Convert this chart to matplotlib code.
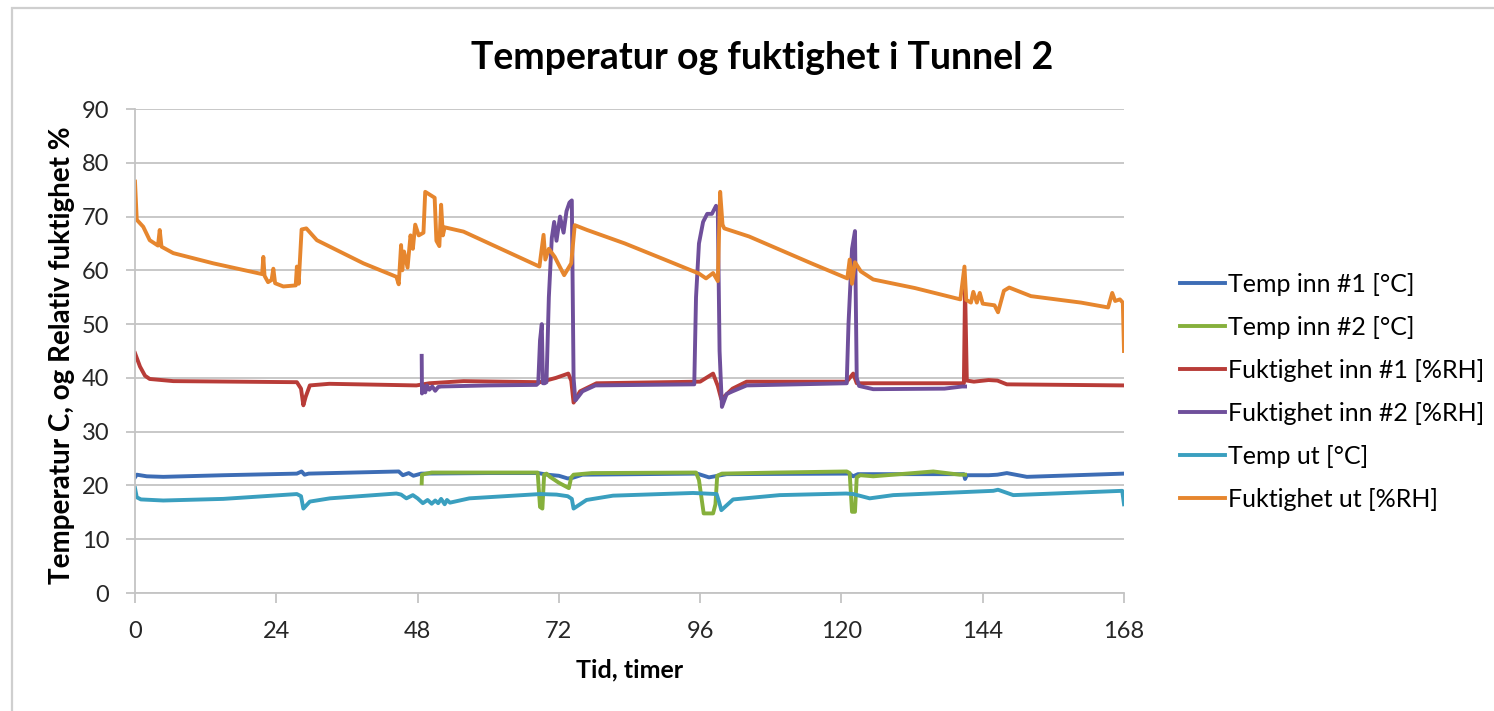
import matplotlib
matplotlib.use("Agg")
import matplotlib.pyplot as plt
from matplotlib.patches import Rectangle

plt.rcParams["font.family"] = ["Lato", "DejaVu Sans"]

# time axis in hours
blue_t = [0, 0.3, 2, 4.8, 15, 27.5, 28.3, 28.8, 29.5, 44.8, 45.5, 46.5, 47.3, 48.6, 60, 68.5, 70, 72,
          73.5, 74.3, 76, 95.5, 97.5, 99, 100.5, 121.3, 122, 122.8, 140.8, 141.0, 141.3, 145.0, 146.5,
          148.1, 151.5, 168]
blue_v = [21.5, 22.0, 21.7, 21.6, 21.9, 22.2, 22.6, 22.0, 22.2, 22.6, 21.9, 22.3, 21.8, 22.2, 22.3, 22.3,
          22.0, 21.8, 21.3, 21.4, 22.0, 22.2, 21.5, 21.8, 22.1, 22.2, 21.7, 22.1, 22.1, 21.2, 21.9, 21.9,
          22.0, 22.3, 21.6, 22.2]

green_t = [48.7, 48.75, 49.5, 50.4, 68.4, 68.8, 69.2, 69.5, 69.9, 70.5, 72.0, 73.7, 74.1, 74.5, 77.6,
           95.3, 95.8, 96.6, 98.2, 98.6, 98.9, 99.7, 109, 120.9, 121.4, 121.8, 122.3, 122.6, 123.2,
           125.4, 135.6, 140.1, 141.0]
green_v = [20.4, 22.0, 22.2, 22.4, 22.4, 16.0, 15.7, 22.0, 22.2, 21.6, 20.5, 19.5, 21.5, 22.0, 22.3,
           22.4, 21.0, 14.8, 14.8, 16.5, 21.8, 22.2, 22.4, 22.6, 22.3, 15.1, 15.1, 21.5, 21.9, 21.7,
           22.6, 22.0, 22.0]

red_t = [0, 0.85, 1.7, 2.5, 6.5, 27.5, 28.2, 28.6, 29.0, 29.7, 33, 47.8, 50, 55.8, 68.8, 71.5, 73.6,
         74.1, 74.5, 75.6, 78.4, 96.0, 98.2, 99.0, 99.6, 101.5, 103.9, 120.9, 122.0, 122.6, 140.8,
         141.0, 141.3, 142.5, 145.0, 146.5, 148.1, 168]
red_v = [44.6, 42.1, 40.4, 39.8, 39.4, 39.2, 38.0, 34.9, 36.5, 38.6, 38.9, 38.6, 39.0, 39.4, 39.2, 40.0,
         40.8, 39.5, 35.4, 37.5, 39.0, 39.3, 40.8, 38.5, 36.0, 38.0, 39.3, 39.3, 40.8, 39.0, 39.0, 57.0,
         39.5, 39.3, 39.6, 39.5, 38.8, 38.6]

purple_t = [48.7, 48.75, 49.0, 49.3, 49.6, 50.0, 50.5, 51.0, 51.5, 52.0, 60, 68.2, 68.5, 68.8, 69.1,
            69.3, 69.6, 69.9, 70.3, 70.8, 71.2, 71.6, 72.2, 72.8, 73.3, 73.8, 74.2, 74.5, 74.8, 75.3,
            76.0, 78.2, 95.0, 95.3, 95.8, 96.5, 97.2, 98.0, 98.7, 99.0, 99.3, 99.7, 100.5, 101.5, 103.9,
            120.9, 121.2, 121.8, 122.3, 122.6, 123.0, 125.4, 137.5, 140.5, 141.0]
purple_v = [44.1, 37.1, 38.5, 37.3, 38.6, 37.8, 38.4, 37.6, 38.3, 38.4, 38.6, 38.7, 39.0, 47.0, 50.0,
            39.0, 39.0, 39.2, 55.0, 66.0, 69.0, 65.5, 70.0, 67.0, 71.0, 72.6, 73.0, 40.0, 35.8, 36.5,
            37.5, 38.6, 38.8, 55.0, 65.0, 69.0, 70.5, 70.5, 72.0, 71.0, 45.0, 34.6, 37.0, 37.5, 38.6,
            39.0, 50.0, 64.0, 67.3, 40.0, 38.5, 37.9, 38.0, 38.4, 38.4]

teal_t = [0, 0.3, 1.0, 4.8, 15, 27.5, 28.2, 28.6, 29.7, 33.1, 44.4, 45.2, 46.1, 47.2, 48.0, 48.9, 49.7,
          50.4, 51.0, 51.5, 52.0, 52.6, 53.0, 53.5, 56.8, 68.8, 71.6, 73.5, 74.2, 74.5, 76.7, 81.2, 94.8,
          98.8, 99.2, 99.6, 101.6, 109.5, 120.8, 122.0, 124.8, 128.8, 145.8, 146.6, 149.2, 167.7, 168]
teal_v = [19.5, 17.8, 17.4, 17.2, 17.5, 18.4, 18.0, 15.7, 17.0, 17.6, 18.5, 18.3, 17.6, 18.2, 17.6, 16.7,
          17.3, 16.6, 17.2, 16.7, 17.5, 16.5, 17.3, 16.8, 17.6, 18.4, 18.3, 18.0, 17.5, 15.7, 17.3, 18.1,
          18.6, 18.4, 17.0, 15.4, 17.4, 18.2, 18.5, 18.4, 17.6, 18.2, 19.0, 19.2, 18.2, 19.0, 16.5]

orange_t = [0, 0.3, 1.4, 2.5, 3.9, 4.2, 4.5, 6.5, 13.3, 21.6, 21.8, 22.0, 22.6, 23.2, 23.5, 23.8, 25.2,
            27.3, 27.5, 27.8, 28.3, 29.1, 30.9, 38.8, 44.4, 44.8, 45.2, 45.4, 45.7, 46.3, 46.8, 47.2,
            47.6, 48.2, 49.0, 49.3, 50.9, 51.2, 51.7, 52.0, 52.3, 52.6, 55.8, 68.7, 69.4, 69.7, 70.3,
            71.3, 72.0, 72.9, 74.1, 74.7, 76.8, 83.2, 90.2, 95.8, 97.0, 98.2, 99.0, 99.4, 99.8, 100.1,
            104.3, 114.9, 121.0, 121.4, 121.8, 122.3, 123.3, 125.4, 132.5, 140.2, 140.9, 141.2, 142.0,
            142.4, 143.0, 143.5, 144.0, 146.0, 146.6, 147.6, 148.5, 152.2, 160.7, 165.3, 166.0, 166.5,
            167.3, 167.8, 168.0]
orange_v = [76.5, 69.4, 68.1, 65.6, 64.6, 67.5, 64.4, 63.2, 61.3, 59.3, 62.5, 59.0, 57.8, 58.2, 60.3,
            57.6, 57.0, 57.2, 60.7, 57.5, 67.6, 67.8, 65.6, 61.3, 58.8, 57.4, 64.7, 60.0, 63.5, 60.5,
            66.5, 64.0, 68.5, 66.5, 67.0, 74.6, 73.5, 65.5, 64.5, 72.2, 66.5, 68.0, 67.2, 60.7, 66.6,
            62.0, 64.0, 62.5, 61.0, 59.1, 61.3, 68.4, 67.5, 65.0, 61.9, 59.4, 58.5, 59.5, 58.0, 74.6,
            68.5, 67.8, 66.3, 61.3, 58.5, 62.0, 57.5, 61.5, 59.8, 58.3, 56.7, 54.6, 60.7, 54.5, 54.0,
            56.0, 54.0, 55.8, 53.8, 53.5, 52.2, 56.2, 56.8, 55.2, 54.0, 53.1, 55.8, 54.3, 54.6, 54.0,
            45.0]

labels = ["Temp inn #1 [°C]", "Temp inn #2 [°C]", "Fuktighet inn #1 [%RH]",
          "Fuktighet inn #2 [%RH]", "Temp ut [°C]", "Fuktighet ut [%RH]"]
colors = ["#3d6db5", "#86b03c", "#b83c38", "#6f4f9b", "#3a9fbf", "#e6862e"]
x_ticks = [0, 24, 48, 72, 96, 120, 144, 168]
y_ticks = [0, 10, 20, 30, 40, 50, 60, 70, 80, 90]

series = [(blue_t, blue_v), (green_t, green_v), (red_t, red_v),
          (purple_t, purple_v), (teal_t, teal_v), (orange_t, orange_v)]

W, H = 1494, 711
fig = plt.figure(figsize=(W / 100, H / 100), dpi=100)
fig.patches.append(Rectangle((12 / W, -0.1), 1.2, (H - 8) / H + 0.1, transform=fig.transFigure,
                             fill=False, edgecolor="#cfcfcf", linewidth=1.6))
ax = fig.add_axes([135 / W, (H - 593) / H, (1124 - 135) / W, (593 - 109) / H])

lines = []
for (t, v), color, label in zip(series, colors, labels):
    (ln,) = ax.plot(t, v, color=color, linewidth=2.8, label=label, solid_joinstyle="round")
    lines.append(ln)

ax.set_xlim(0, 168)
ax.set_ylim(0, 90)
ax.set_xticks(x_ticks)
ax.set_yticks(y_ticks)
ax.yaxis.grid(True, color="#c4c4c4", linewidth=1.3)
ax.set_axisbelow(True)
for side in ["top", "right"]:
    ax.spines[side].set_visible(False)
for side in ["left", "bottom"]:
    ax.spines[side].set_color("#c4c4c4")
    ax.spines[side].set_linewidth(1.3)
ax.tick_params(axis="y", length=6.5, width=1.3, color="#c4c4c4", labelsize=17, labelcolor="#262626", pad=12)
ax.tick_params(axis="x", length=7, width=1.3, color="#c4c4c4", labelsize=17, labelcolor="#262626", pad=13)

fig.text(630 / W, 1 - 670 / H, "Tid, timer", fontsize=18, fontweight="bold", ha="center", va="center")
fig.text(62 / W, 1 - 355 / H, "Temperatur C, og Relativ fuktighet %", fontsize=20, fontweight="bold",
         ha="center", va="center", rotation=90)
fig.text(762 / W, 1 - 58 / H, "Temperatur og fuktighet i Tunnel 2", fontsize=27, fontweight="bold",
         ha="center", va="center")

fig.legend(handles=lines, loc="upper left", bbox_to_anchor=(1170 / W, 1 - 263 / H), frameon=False,
           fontsize=18, handlelength=1.8, handletextpad=0.12, labelspacing=0.8, borderaxespad=0)

fig.savefig("out.png", dpi=100)
